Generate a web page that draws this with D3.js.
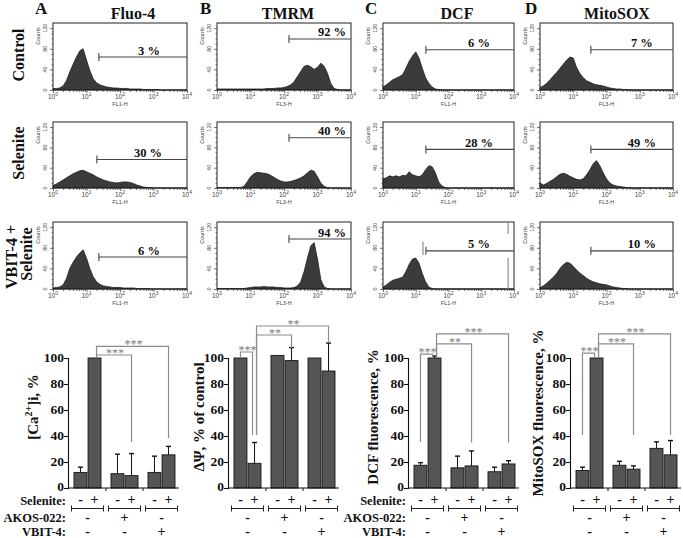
<!DOCTYPE html>
<html><head><meta charset="utf-8">
<script src="https://cdn.jsdelivr.net/npm/d3@7/dist/d3.min.js"></script>
<style>html,body{margin:0;padding:0;background:#fff}svg{display:block}</style>
</head><body>
<svg id="fig" width="683" height="538"></svg>
<script>
// ================= DATA =================
const markers = ["Fluo-4", "TMRM", "DCF", "MitoSOX"];
const panelLetters = ["A", "B", "C", "D"];
const channels = ["FL1-H", "FL3-H", "FL1-H", "FL3-H"];
const conditionLabels = [["Control"], ["Selenite"], ["VBIT-4 +", "Selenite"]];
const decadeTicks = [1, 10, 100, 1000, 10000];
const countTicks = [0, 40, 80, 120];

// histogram bins: log10(fluorescence)
const logBins = [0.0,0.1,0.2,0.3,0.4,0.5,0.6,0.7,0.8,0.9,1.0,1.1,1.2,1.3,1.4,1.5,1.6,1.7,1.8,1.9,2.0,2.1,2.2,2.3,2.4,2.5,2.6,2.7,2.8,2.9,3.0,3.1,3.2,3.3,3.4,3.5,3.6,3.7,3.8,3.9,4.0];

// counts per bin, rows: Control, Selenite, VBIT-4 + Selenite
const histFluo4 = [
  [3,3,4,8,18,35,50,64,76,80, 58,38,22,14,10,8,6,5,4,4, 3,3,3,2,2,2,2,1,1,1, 1,1,0,0,0,0,0,0,0,0, 0],
  [5,8,12,16,20,24,28,31,34,35, 32,29,26,22,19,16,14,12,11,10, 11,12,12,11,9,6,4,2,1,1, 0,0,0,0,0,0,0,0,0,0, 0],
  [2,3,4,8,20,40,52,62,70,76, 60,40,24,14,9,6,5,4,3,3, 3,2,2,2,2,1,1,1,1,0, 0,0,0,0,0,0,0,0,0,0, 0]
];
const histTMRM = [
  [2,2,2,2,2,2,2,2,2,2, 2,2,2,2,2,3,3,3,4,4, 5,7,10,16,26,36,46,48,45,40, 44,52,46,32,12,3,1,0,0,0, 0],
  [1,1,1,1,1,1,1,1,3,12, 22,28,31,30,29,28,25,21,17,14, 12,12,13,15,17,20,24,30,35,33, 22,10,3,1,0,0,0,0,0,0, 0],
  [1,1,1,1,1,1,1,1,1,2, 3,4,4,4,5,4,4,4,3,3, 2,2,2,3,6,14,34,60,84,90, 58,18,4,1,0,0,0,0,0,0, 0]
];
const histDCF = [
  [6,10,15,20,23,26,30,42,56,66, 74,62,42,24,13,6,2,1,0,0, 0,0,0,0,0,0,0,0,0,0, 0,0,0,0,0,0,0,0,0,0, 0],
  [18,20,24,22,24,22,25,24,32,26, 24,22,26,36,44,42,30,12,4,1, 0,0,0,0,0,0,0,0,0,0, 0,0,0,0,0,0,0,0,0,0, 0],
  [4,8,13,17,19,21,23,34,48,58, 60,50,30,14,4,1,0,0,0,0, 0,0,0,0,0,0,0,0,0,0, 0,0,0,0,0,0,0,0,0,0, 0]
];
const histMitoSOX = [
  [5,8,13,20,27,34,42,50,58,64, 62,44,32,24,18,15,12,10,9,8, 6,4,3,2,2,1,1,0,0,0, 0,0,0,0,0,0,0,0,0,0, 0],
  [10,6,9,13,17,22,27,29,27,23, 20,17,16,18,26,36,48,54,44,30, 18,10,6,4,3,2,1,1,0,0, 0,0,0,0,0,0,0,0,0,0, 0],
  [3,6,11,17,23,30,40,47,52,50, 44,37,31,26,21,17,14,12,10,9, 8,6,4,3,2,1,1,0,0,0, 0,0,0,0,0,0,0,0,0,0, 0]
];

// gates: percent of cells, gate start (log10), gate marker height (counts)
const gatePercent = [[3, 30, 6], [92, 40, 94], [6, 28, 5], [7, 49, 10]];
const gateStartLog = [[1.37, 1.31, 1.37], [2.15, 2.15, 2.15], [1.31, 1.31, 1.31], [1.53, 1.53, 1.53]];
const gateLevel = [[64, 56, 62], [99, 99, 97], [78, 76, 74], [78, 76, 74]];

// bar charts (6 bars: [Sel-, Sel+] x [none, AKOS-022, VBIT-4])
const seleniteSigns = ["-", "+", "-", "+", "-", "+"];
const akosSigns = ["-", "+", "-"];
const vbitSigns = ["-", "-", "+"];
const rowNames = ["Selenite:", "AKOS-022:", "VBIT-4:"];
const barTicks = [0, 20, 40, 60, 80, 100];

const meanCa = [12, 100, 11, 9.5, 12, 25.5];
const errCa = [4, 0, 15, 17, 12.5, 6.5];
const meanPsi = [100, 19, 102, 98, 100, 90];
const errPsi = [0, 16, 0, 10, 0, 21.5];
const meanDCF = [17.5, 100, 15.5, 17, 12.5, 18.5];
const errDCF = [2, 1.5, 9, 11.5, 3.5, 2.5];
const meanMito = [13.5, 100, 17.5, 14.5, 30.5, 25.5];
const errMito = [2.5, 0, 3, 2.5, 5, 11];

const yLabels = ["Ca", "\u0394\u03A8, % of control", "DCF fluorescence, %", "MitoSOX fluorescence, %"];

// significance brackets: bar a, bar b, bracket level, leg ends (value units), stars
const sigCa = [
  {a: 1, b: 5, level: 109, aEnd: 100, bEnd: 38.5, label: "***"},
  {a: 1, b: 3, level: 102.3, aEnd: 100, bEnd: 35.4, label: "***"}
];
const sigPsi = [
  {a: 0, b: 1, level: 104.6, aEnd: 100, bEnd: 40.8, label: "***"},
  {a: 1, b: 3, level: 117.7, aEnd: 40.8, bEnd: 107.7, label: "**"},
  {a: 1, b: 5, level: 124.6, aEnd: 40.8, bEnd: 111.5, label: "**"}
];
const sigDCF = [
  {a: 0, b: 1, level: 103, aEnd: 35.4, bEnd: 100, label: "***"},
  {a: 1, b: 3, level: 110.8, aEnd: 100, bEnd: 35, label: "**"},
  {a: 1, b: 5, level: 118.5, aEnd: 100, bEnd: 35, label: "***"}
];
const sigMito = [
  {a: 0, b: 1, level: 103.8, aEnd: 40.8, bEnd: 100, label: "***"},
  {a: 1, b: 3, level: 110.8, aEnd: 100, bEnd: 40.8, label: "***"},
  {a: 1, b: 5, level: 118.5, aEnd: 100, bEnd: 40.8, label: "***"}
];

// ================= LAYOUT =================
const svg = d3.select("#fig");
const SERIF = "'Liberation Serif','Times New Roman',serif";
const SANS = "'Liberation Sans',Arial,sans-serif";

const colX0 = [53, 217, 383, 540], colX1 = [187, 351, 514, 673];
const rowY0 = [23, 122, 222], rowY1 = [90, 188, 289];
const titleX = [133, 288, 457, 617];
const letterX = [35, 200, 365, 525];
const pctShift = [6, 12, 9, 10];
const histData = [histFluo4, histTMRM, histDCF, histMitoSOX];
// stray gate-edit marks visible in panel C, third row (log10 x, count range)
const strayMarks = [{c: 2, r: 2, lx: 3.82, y0: 130, y1: 107}, {c: 2, r: 2, lx: 3.82, y0: 60, y1: 0},
                    {c: 2, r: 2, lx: 1.22, y0: 92, y1: 66}];

const minorTicks = [];
[1, 10, 100, 1000].forEach(d => { for (let k = 2; k < 10; k++) minorTicks.push(d * k); });
const minorCounts = d3.range(10, 130, 10).filter(v => v % 40 !== 0);

function boldText(g, x, y, size, txt, anchor) {
  return g.append("text").attr("x", x).attr("y", y).attr("font-family", SERIF)
    .attr("font-weight", "bold").attr("font-size", size).attr("text-anchor", anchor || "middle")
    .attr("fill", "#111").text(txt);
}

// headers
markers.forEach((m, c) => {
  boldText(svg, titleX[c], 19, 16, m);
  boldText(svg, letterX[c], 14, 17, panelLetters[c], "start");
});
// row labels
const rowLabelPos = [[[18, 55]], [[18, 153]], [[11, 257], [26, 254]]];
conditionLabels.forEach((lines, r) => {
  lines.forEach((t, k) => {
    const [px, py] = rowLabelPos[r][k];
    svg.append("text").attr("transform", `translate(${px},${py}) rotate(-90)`)
      .attr("dy", "0.35em").attr("text-anchor", "middle").attr("font-family", SERIF)
      .attr("font-weight", "bold").attr("font-size", 16).attr("fill", "#111").text(t);
  });
});

// histograms
histData.forEach((rows, c) => {
  rows.forEach((counts, r) => {
    const x = d3.scaleLog().domain([1, 10000]).range([colX0[c], colX1[c]]);
    const y = d3.scaleLinear().domain([0, 130]).range([rowY1[r], rowY0[r]]);
    const g = svg.append("g");
    const pts = logBins.map((b, i) => [Math.pow(10, b), counts[i]]);
    g.append("path").datum(pts)
      .attr("d", d3.area().x(d => x(d[0])).y0(y(0)).y1(d => y(d[1])))
      .attr("fill", "#3b3b3b").attr("stroke", "#111").attr("stroke-width", 0.7);
    g.append("rect").attr("x", colX0[c]).attr("y", rowY0[r])
      .attr("width", colX1[c] - colX0[c]).attr("height", rowY1[r] - rowY0[r])
      .attr("fill", "none").attr("stroke", "#222").attr("stroke-width", 1);

    const ax = g.append("g").attr("transform", `translate(0,${rowY1[r]})`);
    ax.call(d3.axisBottom(x).tickValues(decadeTicks).tickSize(3).tickFormat(""));
    ax.append("g").call(d3.axisBottom(x).tickValues(minorTicks).tickSize(2).tickFormat(""));
    ax.selectAll(".domain").remove();
    ax.selectAll("line").attr("stroke", "#333").attr("stroke-width", 0.7);
    decadeTicks.forEach((t, i) => {
      const tx = ax.append("text").attr("x", x(t)).attr("y", 9).attr("text-anchor", "middle")
        .attr("font-family", SANS).attr("font-size", 6.5).attr("fill", "#444");
      tx.append("tspan").text("10");
      tx.append("tspan").attr("dy", -3).attr("font-size", 5).text(i);
    });
    ax.append("text").attr("x", (colX0[c] + colX1[c]) / 2).attr("y", 16).attr("text-anchor", "middle")
      .attr("font-family", SANS).attr("font-size", 5.5).attr("fill", "#444").text(channels[c]);

    const ay = g.append("g").attr("transform", `translate(${colX0[c]},0)`);
    ay.call(d3.axisLeft(y).tickValues(countTicks).tickSize(3).tickFormat(""));
    ay.append("g").call(d3.axisLeft(y).tickValues(minorCounts).tickSize(1.5).tickFormat(""));
    ay.selectAll(".domain").remove();
    ay.selectAll("line").attr("stroke", "#333").attr("stroke-width", 0.7);
    countTicks.forEach(t => {
      ay.append("text").attr("transform", `translate(-6,${y(t)}) rotate(-90)`)
        .attr("text-anchor", "middle").attr("font-family", SANS).attr("font-size", 5.5)
        .attr("fill", "#444").text(t);
    });
    ay.append("text").attr("transform", `translate(-13,${rowY0[r] + 13}) rotate(-90)`)
      .attr("text-anchor", "middle").attr("font-family", SANS).attr("font-size", 5.5)
      .attr("fill", "#444").text("Counts");

    const gx = x(Math.pow(10, gateStartLog[c][r])), gy = y(gateLevel[c][r]);
    g.append("line").attr("x1", gx).attr("x2", colX1[c]).attr("y1", gy).attr("y2", gy)
      .attr("stroke", "#444").attr("stroke-width", 1.1);
    g.append("line").attr("x1", gx).attr("x2", gx).attr("y1", gy - 4).attr("y2", gy + 4)
      .attr("stroke", "#444").attr("stroke-width", 1.1);
    boldText(g, (gx + colX1[c]) / 2 + pctShift[c], gy - 2.5, 12.5, gatePercent[c][r] + " %");

    strayMarks.filter(m => m.c === c && m.r === r).forEach(m => {
      const mx = x(Math.pow(10, m.lx));
      g.append("line").attr("x1", mx).attr("x2", mx).attr("y1", y(m.y0)).attr("y2", y(m.y1))
        .attr("stroke", "#777").attr("stroke-width", 1);
    });
  });
});

// bar charts
const axisX = [68, 228, 408, 570];
const yLabelPos = [[33, 407], [199, 417], [373, 417], [538, 413]];
const means = [meanCa, meanPsi, meanDCF, meanMito];
const errs = [errCa, errPsi, errDCF, errMito];
const sigs = [sigCa, sigPsi, sigDCF, sigMito];
const yB = d3.scaleLinear().domain([0, 100]).range([488, 358]);

means.forEach((vals, c) => {
  const x0 = axisX[c];
  const g = svg.append("g");
  const gScale = d3.scaleBand().domain([0, 1, 2]).range([x0 + 1, x0 + 112]);
  const inner = d3.scaleBand().domain(["-", "+"]).range([5, 32]).paddingInner(0.08);
  const barX = i => gScale(Math.floor(i / 2)) + inner(seleniteSigns[i]);
  const barCx = i => barX(i) + inner.bandwidth() / 2;
  const grpCx = k => gScale(k) + gScale.bandwidth() / 2;

  // bars
  g.selectAll("rect.bar").data(vals).join("rect").attr("class", "bar")
    .attr("x", (d, i) => barX(i)).attr("width", inner.bandwidth())
    .attr("y", d => yB(d)).attr("height", d => yB(0) - yB(d))
    .attr("fill", "#555").attr("stroke", "#151515").attr("stroke-width", 0.9);
  // error bars
  vals.forEach((v, i) => {
    const e = errs[c][i];
    if (e <= 0) return;
    const cx = barCx(i);
    g.append("line").attr("x1", cx).attr("x2", cx).attr("y1", yB(v)).attr("y2", yB(v + e))
      .attr("stroke", "#111").attr("stroke-width", 1);
    g.append("line").attr("x1", cx - 2.5).attr("x2", cx + 2.5).attr("y1", yB(v + e)).attr("y2", yB(v + e))
      .attr("stroke", "#111").attr("stroke-width", 1.4);
  });

  // y axis
  const ay = g.append("g").attr("transform", `translate(${x0},0)`);
  ay.call(d3.axisLeft(yB).tickValues(barTicks).tickSize(4).tickFormat(""));
  ay.selectAll("path,line").attr("stroke", "#111").attr("stroke-width", 1.1);
  barTicks.forEach(t => boldText(ay, -4, yB(t), 13.5, t, "end").attr("dy", t === 0 ? "0.2em" : "0.3em"));

  // x axis
  g.append("line").attr("x1", x0).attr("x2", x0 + 111).attr("y1", yB(0)).attr("y2", yB(0))
    .attr("stroke", "#111").attr("stroke-width", 1.1);
  [1, 2].forEach(k => {
    const bx = gScale(k);
    g.append("line").attr("x1", bx).attr("x2", bx).attr("y1", yB(0)).attr("y2", yB(0) + 3)
      .attr("stroke", "#111").attr("stroke-width", 1);
  });

  // y label
  const [lx, ly] = yLabelPos[c];
  const yl = svg.append("text").attr("transform", `translate(${lx},${ly}) rotate(-90)`)
    .attr("dy", "0.35em").attr("text-anchor", "middle").attr("font-family", SERIF)
    .attr("font-weight", "bold").attr("font-size", 15).attr("fill", "#111");
  if (c === 0) {
    yl.append("tspan").text("[Ca");
    yl.append("tspan").attr("dy", -6).attr("font-size", 10).text("2+");
    yl.append("tspan").attr("dy", 6).text("]i, %");
  } else {
    yl.text(yLabels[c]);
  }

  // significance brackets
  sigs[c].forEach(s => {
    const xa = barCx(s.a) + (s.a === 1 ? 2 : 0);
    const xb = barCx(s.b) - (s.b === 1 ? 2 : 0);
    const yl2 = yB(s.level);
    g.append("path")
      .attr("d", `M${xa},${yB(s.aEnd)}V${yl2}H${xb}V${yB(s.bEnd)}`)
      .attr("fill", "none").attr("stroke", "#8c8c8c").attr("stroke-width", 1.2);
    g.append("text").attr("x", (xa + xb) / 2 + 1).attr("y", yl2 + 2).attr("text-anchor", "middle")
      .attr("font-family", SERIF).attr("font-size", 12).attr("fill", "#7a7a7a").text(s.label);
  });

  // category rows
  seleniteSigns.forEach((s, i) => boldText(g, barCx(i), 504, 14, s));
  [0, 1, 2].forEach(k => {
    const cx = grpCx(k);
    g.append("path").attr("d", `M${cx - 16},505.5V511.5M${cx - 16},508.5H${cx + 16}M${cx + 16},505.5V511.5`)
      .attr("fill", "none").attr("stroke", "#222").attr("stroke-width", 1);
    boldText(g, cx, 522, 14, akosSigns[k]);
    boldText(g, cx, 536, 14, vbitSigns[k]);
  });
  if (c === 0 || c === 2) {
    [505, 522, 536].forEach((yy, k) => boldText(g, x0 - 2, yy, 12.5, rowNames[k], "end"));
  }
});
</script>
</body></html>
